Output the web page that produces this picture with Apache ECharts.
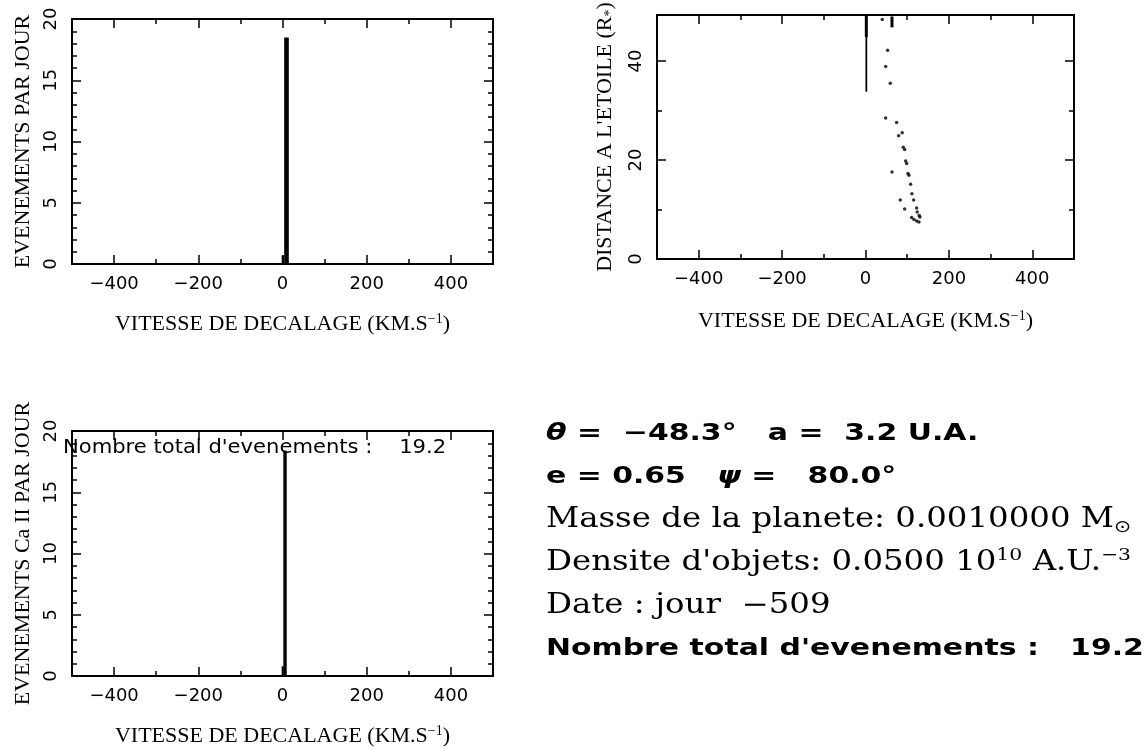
<!DOCTYPE html>
<html><head><meta charset="utf-8">
<script src="https://cdn.jsdelivr.net/npm/echarts@6/dist/echarts.min.js"></script>
<style>html,body{margin:0;padding:0;background:#fff}#c{width:1146px;height:749px}</style>
</head><body><div id="c"></div>
<script>
// ---------------- data ----------------
const xLabelTicks = [-400, -200, 0, 200, 400];
const xMinorTicks = [-300, -100, 100, 300];
const yEvtMajor = [0, 5, 10, 15, 20];
const yEvtMinor = [1, 2, 3, 4, 6, 7, 8, 9, 11, 12, 13, 14, 16, 17, 18, 19];
const yDistMajor = [0, 20, 40];
const yDistMinor = [10, 30];

// top-left histogram: bin edges (km/s) and events per day
const histTopLo = [-2, 4];
const histTopHi = [4, 15];
const histTopCount = [0.7, 18.5];
// bottom-left histogram (Ca II)
const histBotLo = [-2, 2];
const histBotHi = [2, 10];
const histBotCount = [0.8, 18.4];

// top-right: distance to star vs velocity
const distV = [40.2, 53, 48.4, 59.4, 48.4, 74.7, 79.5, 88, 90.5, 93.9, 96.3, 98.7, 63.5, 101.8, 104.2, 108.2, 111.3, 83.3, 115.4, 93.9, 122.6, 124, 110.6, 116.1, 122.6, 128.1, 130.5, 128.8];
const distR = [48.4, 42.2, 38.9, 35.5, 28.5, 27.6, 24.9, 25.5, 22.6, 22.1, 19.8, 19.3, 17.6, 17.3, 16.9, 15.1, 13.2, 11.9, 11.9, 10.1, 10.3, 9.5, 8.4, 8.0, 7.7, 7.5, 8.5, 8.8];
// dense vertical streaks of points (velocity, top, bottom distance)
const thickTrackV = [2, 63.5];
const thickTrackTop = [49.3, 49.0];
const thickTrackBottom = [44.8, 46.8];
const thinTrackV = [2];
const thinTrackTop = [44.8];
const thinTrackBottom = [33.8];

// parameters of the run
const theta = '\u221248.3';
const aUA = '3.2';
const ecc = '0.65';
const psi = '80.0';
const planetMass = '0.0010000';
const density = '0.0500';
const day = '\u2212509';
const totalEvents = '19.2';

// ---------------- helpers ----------------
const MINUS = '\u2212';
const fmt = v => (v < 0 ? MINUS + Math.abs(v) : String(v));
const serifTitle = {
  t: { fontFamily: 'Liberation Serif', fontSize: 22, color: '#000' },
  s: { fontFamily: 'Liberation Serif', fontSize: 14, color: '#000', padding: [0, 0, 11, 0] },
  b: { fontFamily: 'Liberation Serif', fontSize: 14, color: '#000', padding: [9, 0, 0, 0] }
};
const tickStyle = { color: '#000', width: 1.5 };

function axesFor(grid, dim, min, max, majors, minors, labels, name, nameGap, labelMargin) {
  const isX = dim === 'x';
  const posA = isX ? 'bottom' : 'left';
  const posB = isX ? 'top' : 'right';
  const base = { type: 'value', gridIndex: grid, min: min, max: max, splitLine: { show: false }, axisLine: { show: false, onZero: false } };
  const list = [];
  list.push(Object.assign({}, base, {
    position: posA,
    name: name,
    nameLocation: 'middle',
    nameGap: nameGap,
    nameRotate: isX ? 0 : 90,
    nameTextStyle: { rich: serifTitle },
    axisTick: { show: true, inside: true, length: 9, customValues: majors, lineStyle: tickStyle },
    axisLabel: {
      customValues: labels, formatter: fmt, rotate: isX ? 0 : 90, margin: labelMargin,
      fontFamily: 'DejaVu Sans', fontSize: 18, color: '#000'
    }
  }));
  list.push(Object.assign({}, base, {
    position: posA,
    axisTick: { show: true, inside: true, length: 5, customValues: minors, lineStyle: tickStyle },
    axisLabel: { show: false }
  }));
  list.push(Object.assign({}, base, {
    position: posB,
    axisTick: { show: true, inside: true, length: 9, customValues: majors, lineStyle: tickStyle },
    axisLabel: { show: false }
  }));
  list.push(Object.assign({}, base, {
    position: posB,
    axisTick: { show: true, inside: true, length: 5, customValues: minors, lineStyle: tickStyle },
    axisLabel: { show: false }
  }));
  return list;
}

const xName = '{t|VITESSE DE DECALAGE (KM.S}{s|' + MINUS + '1}{t|)}';

const xAxes = [].concat(
  axesFor(0, 'x', -500, 500, xLabelTicks, xMinorTicks, xLabelTicks, xName, 48, 11),
  axesFor(1, 'x', -500, 500, xLabelTicks, xMinorTicks, xLabelTicks, xName, 50, 11),
  axesFor(2, 'x', -500, 500, xLabelTicks, xMinorTicks, xLabelTicks, xName, 48, 11)
);
const yAxes = [].concat(
  axesFor(0, 'y', 0, 20, yEvtMajor, yEvtMinor, yEvtMajor, '{t|EVENEMENTS PAR JOUR}', 38, 12),
  axesFor(1, 'y', 0, 49.3, yDistMajor, yDistMinor, yDistMajor, "{t|DISTANCE A L'ETOILE (R}{b|*}{t|)}", 40, 12),
  axesFor(2, 'y', 0, 20, yEvtMajor, yEvtMinor, yEvtMajor, '{t|EVENEMENTS Ca II PAR JOUR}', 38, 12)
);

function histSeries(xi, yi, lo, hi, cnt) {
  return {
    type: 'custom', xAxisIndex: xi, yAxisIndex: yi,
    encode: { x: [0, 1], y: 2 },
    data: lo.map((l, i) => [l, hi[i], cnt[i]]),
    renderItem: function (params, api) {
      const p0 = api.coord([api.value(0), 0]);
      const p1 = api.coord([api.value(1), api.value(2)]);
      return { type: 'rect', shape: { x: p0[0], y: p1[1], width: Math.max(1.5, p1[0] - p0[0]), height: p0[1] - p1[1] },
        style: { fill: '#000' } };
    }
  };
}
function trackSeries(xi, yi, v, top, bot, w) {
  return {
    type: 'custom', xAxisIndex: xi, yAxisIndex: yi,
    encode: { x: 0, y: [1, 2] },
    data: v.map((x, i) => [x, top[i], bot[i]]),
    renderItem: function (params, api) {
      const a = api.coord([api.value(0), api.value(1)]);
      const b = api.coord([api.value(0), api.value(2)]);
      return { type: 'line', shape: { x1: a[0], y1: a[1], x2: b[0], y2: b[1] }, style: { stroke: '#000', lineWidth: w } };
    }
  };
}

const sansB = 'DejaVu Sans';
const serif = 'DejaVu Serif';
const txtX = 546;
const rowY = [434, 477, 520, 563, 606, 649];
function line(y, text, family, size, weight, sx, rich) {
  return {
    type: 'text', x: txtX, y: y, scaleX: sx, scaleY: 1,
    style: { text: text, fontFamily: family, fontSize: size, fontWeight: weight, fill: '#000', verticalAlign: 'middle', align: 'left', rich: rich || {} }
  };
}
const richSans = {
  i: { fontFamily: sansB, fontSize: 23, fontWeight: 'bold', fontStyle: 'italic', fill: '#000' }
};
const richSerif = {
  sup: { fontFamily: serif, fontSize: 17, fill: '#000', padding: [0, 0, 15, 0] },
  sub: { fontFamily: 'DejaVu Sans', fontSize: 17, fill: '#000', padding: [15, 0, 0, 0] }
};

const option = {
  backgroundColor: '#fff',
  animation: false,
  grid: [
    { left: 72, top: 19, width: 421, height: 245, show: true, borderColor: '#000', borderWidth: 2, outerBoundsMode: 'none', containLabel: false },
    { left: 657, top: 15, width: 417, height: 244, show: true, borderColor: '#000', borderWidth: 2, outerBoundsMode: 'none', containLabel: false },
    { left: 72, top: 431, width: 421, height: 245, show: true, borderColor: '#000', borderWidth: 2, outerBoundsMode: 'none', containLabel: false }
  ],
  xAxis: xAxes,
  yAxis: yAxes,
  series: [
    histSeries(0, 0, histTopLo, histTopHi, histTopCount),
    histSeries(8, 8, histBotLo, histBotHi, histBotCount),
    trackSeries(4, 4, thickTrackV, thickTrackTop, thickTrackBottom, 3),
    trackSeries(4, 4, thinTrackV, thinTrackTop, thinTrackBottom, 1.8),
    {
      type: 'scatter', xAxisIndex: 4, yAxisIndex: 4,
      data: distV.map((v, i) => [v, distR[i]]),
      symbol: 'circle', symbolSize: 3.5, itemStyle: { color: '#000' }
    }
  ],
  graphic: [
    {
      type: 'text', x: 63, y: 448, scaleX: 1.11, z: 100,
      style: { text: "Nombre total d'evenements :    " + totalEvents, fontFamily: 'DejaVu Sans', fontSize: 19, fill: '#000', verticalAlign: 'middle' }
    },
    line(rowY[0], '{i|\u03b8} =  ' + theta + '\u00b0   a =  ' + aUA + ' U.A.', sansB, 23, 'bold', 1.3, richSans),
    line(rowY[1], 'e = ' + ecc + '   {i|\u03c8} =   ' + psi + '\u00b0', sansB, 23, 'bold', 1.3, richSans),
    line(rowY[2], 'Masse de la planete: ' + planetMass + ' M{sub|\u2299}', serif, 27, 'normal', 1.2, richSerif),
    line(rowY[3], "Densite d'objets: " + density + ' 10{sup|10} A.U.{sup|' + MINUS + '3}', serif, 27, 'normal', 1.2, richSerif),
    line(rowY[4], 'Date : jour  ' + day, serif, 27, 'normal', 1.2, richSerif),
    line(rowY[5], "Nombre total d'evenements :   " + totalEvents, sansB, 23, 'bold', 1.3, richSans)
  ]
};

const chart = echarts.init(document.getElementById('c'), null, { renderer: 'canvas' });
chart.setOption(option);
</script>
</body></html>
